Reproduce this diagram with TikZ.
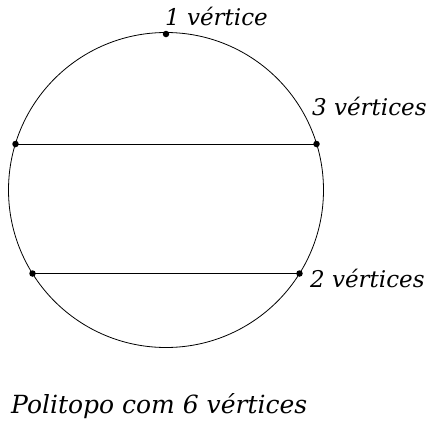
\documentclass[tikz,border=0pt]{standalone}
\usepackage{fontspec}
\setmainfont{DejaVu Serif}
\begin{document}
\begin{tikzpicture}[x=1pt,y=-1pt,
  lbl/.style={font=\itshape\fontsize{23}{27}\selectfont, inner sep=0pt, anchor=base west},
  caplbl/.style={font=\itshape\fontsize{25}{29}\selectfont, inner sep=0pt, anchor=base west},
  dot/.style={circle, fill, inner sep=0pt, minimum size=6.5pt},
  edge/.style={line width=0.8pt}]
\useasboundingbox (0,0) rectangle (429,421);
\coordinate (c) at (166,190);
\draw[edge] (c) circle (157.5);
\node[dot] (v1) at (166,34) {};
\node[dot] (a1) at (15.5,144) {};
\node[dot] (a2) at (316.5,144) {};
\node[dot] (b1) at (32.5,273.5) {};
\node[dot] (b2) at (299.5,273.5) {};
\draw[edge] (a1.center) -- (a2.center);
\draw[edge] (b1.center) -- (b2.center);
\node[lbl] (l1) at (165,25) {1 vértice};
\node[lbl] (l3) at (312,115) {3 vértices};
\node[lbl] (l2) at (310,287) {2 vértices};
\node[caplbl] (cap) at (11,413) {Politopo com 6 vértices};
\end{tikzpicture}
\end{document}
